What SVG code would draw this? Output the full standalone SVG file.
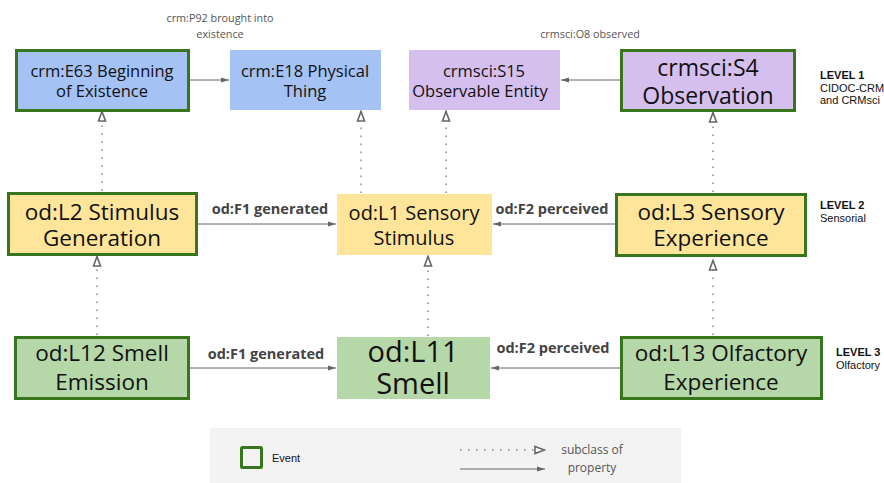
<svg xmlns="http://www.w3.org/2000/svg" width="884" height="483" viewBox="0 0 884 483">
<style>
.ev{stroke:#38761d;stroke-width:3}
.blue{fill:#a4c2f4}
.lav{fill:#d5bfee}
.yel{fill:#ffe599}
.grn{fill:#b6d7a8}
.t{font-family:"Open Sans","Noto Sans",sans-serif;fill:#111;text-anchor:middle}
.lbl{font-family:"Open Sans","Noto Sans",sans-serif;fill:#555;font-size:10.8px;text-anchor:middle}
.plbl{font-family:"Open Sans","Noto Sans",sans-serif;fill:#444;font-size:14.5px;font-weight:bold;text-anchor:middle}
.lvl{font-family:"Liberation Sans",Arial,sans-serif;fill:#111;font-size:11px}
.prop{stroke:#666;stroke-width:1;fill:none}
.sub{stroke:#888;stroke-width:1.5;stroke-dasharray:1.5 6.5;fill:none}
</style>
<defs>
<marker id="pa" viewBox="0 0 8 6" refX="8" refY="3" markerWidth="8" markerHeight="6" markerUnits="userSpaceOnUse" orient="auto">
<path d="M0,0.5 L8,3 L0,5.5 Z" fill="#666"/>
</marker>
<marker id="sa" viewBox="0 0 12 10" refX="11" refY="5" markerWidth="12" markerHeight="10" markerUnits="userSpaceOnUse" orient="auto">
<path d="M1,1.5 L10.5,5 L1,8.5 Z" fill="#fff" stroke="#666" stroke-width="1.6"/>
</marker>
</defs>
<rect x="0" y="0" width="884" height="483" fill="#fff"/>

<g id="connectors">
<line class="prop" x1="189" y1="80" x2="229" y2="80" marker-end="url(#pa)"/>
<line class="prop" x1="621" y1="80" x2="561" y2="80" marker-end="url(#pa)"/>
<line class="prop" x1="197" y1="224" x2="336" y2="224" marker-end="url(#pa)"/>
<line class="prop" x1="616" y1="224" x2="493" y2="224" marker-end="url(#pa)"/>
<line class="prop" x1="189" y1="368" x2="336" y2="368" marker-end="url(#pa)"/>
<line class="prop" x1="621" y1="368" x2="491" y2="368" marker-end="url(#pa)"/>
<line class="sub" x1="102" y1="191" x2="102" y2="111" marker-end="url(#sa)"/>
<line class="sub" x1="361" y1="193" x2="361" y2="111" marker-end="url(#sa)"/>
<line class="sub" x1="446" y1="193" x2="446" y2="111" marker-end="url(#sa)"/>
<line class="sub" x1="713" y1="192" x2="713" y2="112" marker-end="url(#sa)"/>
<line class="sub" x1="97" y1="335" x2="97" y2="256" marker-end="url(#sa)"/>
<line class="sub" x1="428" y1="336" x2="428" y2="256" marker-end="url(#sa)"/>
<line class="sub" x1="713" y1="335" x2="713" y2="260" marker-end="url(#sa)"/>
<text class="lbl" x="220" y="22">crm:P92 brought into</text>
<text class="lbl" x="220" y="38">existence</text>
<text class="lbl" x="590" y="38">crmsci:O8 observed</text>
<text class="plbl" x="270" y="214">od:F1 generated</text>
<text class="plbl" x="552" y="214">od:F2 perceived</text>
<text class="plbl" x="266" y="359">od:F1 generated</text>
<text class="plbl" x="553" y="353">od:F2 perceived</text>
</g>

<g id="e63"><rect class="blue ev" x="16.5" y="50.5" width="172" height="60"/>
<text class="t" font-size="16.5" x="102" y="77">crm:E63 Beginning</text>
<text class="t" font-size="16.5" x="102" y="97">of Existence</text></g>

<g id="e18"><rect class="blue" x="230" y="50" width="151" height="60"/>
<text class="t" font-size="16.5" x="305" y="77">crm:E18 Physical</text>
<text class="t" font-size="16.5" x="305" y="97">Thing</text></g>

<g id="s15"><rect class="lav" x="409" y="50" width="151" height="60"/>
<text class="t" font-size="16.5" x="484" y="77">crmsci:S15</text>
<text class="t" font-size="16.5" x="480" y="97">Observable Entity</text></g>

<g id="s4"><rect class="lav ev" x="621.5" y="50.5" width="173" height="60"/>
<text class="t" font-size="23" x="708" y="76">crmsci:S4</text>
<text class="t" font-size="23" x="708" y="104">Observation</text></g>

<g id="l2"><rect class="yel ev" x="8.5" y="193.5" width="188" height="61"/>
<text class="t" font-size="22.5" x="102" y="220">od:L2 Stimulus</text>
<text class="t" font-size="22.5" x="102" y="246">Generation</text></g>

<g id="l1"><rect class="yel" x="337" y="194" width="155" height="61"/>
<text class="t" font-size="20" x="414" y="220">od:L1 Sensory</text>
<text class="t" font-size="20" x="414" y="245">Stimulus</text></g>

<g id="l3"><rect class="yel ev" x="616.5" y="194.5" width="189" height="61"/>
<text class="t" font-size="22.5" x="711" y="220">od:L3 Sensory</text>
<text class="t" font-size="22.5" x="711" y="246">Experience</text></g>

<g id="l12"><rect class="grn ev" x="15.5" y="337.5" width="173" height="61"/>
<text class="t" font-size="22.5" x="102" y="361">od:L12 Smell</text>
<text class="t" font-size="22.5" x="102" y="390">Emission</text></g>

<g id="l11"><rect class="grn" x="337" y="337" width="153" height="62"/>
<text class="t" font-size="29" x="413" y="362">od:L11</text>
<text class="t" font-size="29" x="413" y="394">Smell</text></g>

<g id="l13"><rect class="grn ev" x="621.5" y="337.5" width="200" height="61"/>
<text class="t" font-size="22.5" x="721" y="361">od:L13 Olfactory</text>
<text class="t" font-size="22.5" x="721" y="390">Experience</text></g>

<g id="levels">
<text class="lvl" x="820" y="79" font-weight="bold">LEVEL 1</text>
<text class="lvl" x="820" y="92">CIDOC-CRM</text>
<text class="lvl" x="820" y="104">and CRMsci</text>
<text class="lvl" x="820" y="209" font-weight="bold">LEVEL 2</text>
<text class="lvl" x="820" y="222">Sensorial</text>
<text class="lvl" x="836" y="356" font-weight="bold">LEVEL 3</text>
<text class="lvl" x="836" y="369">Olfactory</text>
</g>

<g id="legend">
<rect x="210" y="428" width="471" height="55" fill="#f3f3f3"/>
<rect x="241.5" y="447.5" width="20" height="20" fill="#f3f3f3" class="ev" rx="1"/>
<text x="272" y="462" font-family="'Liberation Sans',Arial,sans-serif" font-size="11" fill="#111">Event</text>
<line class="sub" x1="460" y1="450" x2="545" y2="450" marker-end="url(#sa)"/>
<line class="prop" x1="460" y1="469" x2="545" y2="469" marker-end="url(#pa)"/>
<text class="lbl" x="592" y="454" style="font-size:12px">subclass of</text>
<text class="lbl" x="592" y="472" style="font-size:12px">property</text>
</g>
</svg>
